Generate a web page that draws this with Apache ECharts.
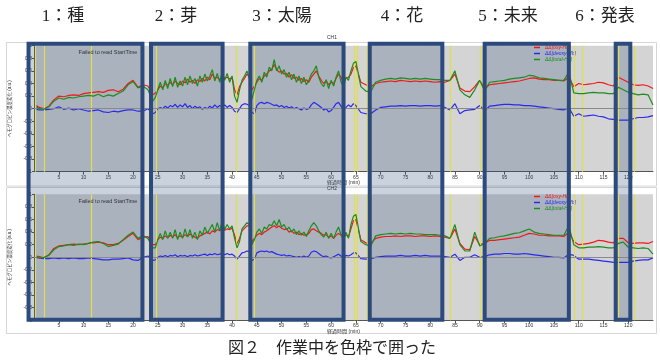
<!DOCTYPE html>
<html><head><meta charset="utf-8">
<script src="https://cdn.jsdelivr.net/npm/echarts@6.0.0/dist/echarts.min.js"></script>
<style>html,body{margin:0;padding:0;background:#fff}#c{width:660px;height:361px}</style>
</head><body><div id="c"></div><script>
// time grid (min)
const times = [0.5,1,2,3,4,5,6,7,8,9,10,11,12,13,14,15,16,17,18,19,20,21,22,23,24,
24.5,25,25.5,26,26.5,27,27.5,28,28.5,29,29.5,30,30.5,31,31.5,32,32.5,33,33.5,34,34.5,35,35.5,36,36.5,37,37.5,38,38.5,39,39.5,40,40.5,41,41.5,42,42.5,43,43.5,44,44.5,45,45.5,46,46.5,47,47.5,48,48.5,49,49.5,50,50.5,51,51.5,52,52.5,53,53.5,54,54.5,55,55.5,56,56.5,57,57.5,58,58.5,59,59.5,60,60.5,61,61.5,62,62.5,63,63.5,64,64.5,
65,66,67,68,69,70,71,72,73,74,75,76,77,78,79,80,81,82,83,84,85,86,87,88,89,90,91,92,93,94,95,96,97,98,99,100,101,102,103,104,105,106,107,108,109,110,111,112,113,114,115,116,117,118,119,120,121,122,123,124,125];

// CH1
const oxy1 = [0.05,0.02,0.00,0.04,0.14,0.20,0.19,0.21,0.22,0.21,0.24,0.25,0.26,0.27,0.26,0.29,0.30,0.27,0.31,0.40,0.45,0.34,0.38,0.36,0.22,
0.25,0.30,0.36,0.33,0.40,0.37,0.42,0.38,0.44,0.40,
0.38,0.44,0.41,0.47,0.42,0.45,0.40,0.46,0.43,0.48,
0.44,0.50,0.46,0.55,0.48,0.50,0.46,0.52,0.48,0.50,
0.47,0.50,0.30,0.22,0.35,0.42,0.48,0.55,0.50,0.30,
0.36,0.42,0.48,0.45,0.52,0.55,0.60,0.62,0.70,0.62,
0.58,0.60,0.55,0.56,0.50,0.54,0.48,0.50,0.45,0.48,
0.43,0.46,0.42,0.50,0.55,0.60,0.52,0.45,0.40,0.44,
0.38,0.42,0.40,0.48,0.55,0.50,0.42,0.48,0.50,0.55,
0.65,
0.68,0.42,0.38,0.35,0.40,0.42,0.43,0.44,0.43,0.45,
0.44,0.43,0.44,0.43,0.44,0.43,0.42,0.43,0.42,0.45,
0.55,0.33,0.28,0.27,0.35,0.45,0.32,0.38,0.39,0.40,
0.41,0.42,0.43,0.44,0.46,0.48,0.49,0.47,0.46,0.46,
0.45,0.45,0.44,0.50,0.35,0.40,0.38,0.39,0.40,0.42,
0.41,0.38,0.36,0.50,0.46,0.42,0.38,0.37,0.38,0.36,
0.32];
const deoxy1 = [-0.01,-0.02,-0.02,-0.01,0.00,0.03,-0.01,0.01,-0.02,0.00,-0.02,-0.04,-0.03,-0.02,-0.05,-0.06,-0.04,-0.05,-0.03,-0.02,-0.02,-0.04,-0.04,0.00,-0.08,
-0.06,0.00,0.02,0.00,0.04,0.01,0.05,0.03,0.07,0.02,
0.06,0.03,0.08,0.02,0.05,0.00,0.04,0.01,0.03,-0.01,
0.02,0.00,0.04,0.01,0.06,0.02,0.05,0.03,0.06,0.02,
0.05,0.02,-0.04,-0.06,0.00,0.06,0.08,0.07,0.05,-0.06,
-0.08,0.05,0.09,0.10,0.08,0.10,0.09,0.07,0.05,0.06,
0.03,0.05,0.02,0.04,0.01,0.03,0.00,0.02,0.00,-0.02,
0.01,-0.01,0.00,0.06,0.10,0.08,0.05,0.02,-0.02,0.00,
-0.05,-0.03,0.02,0.08,0.10,0.04,-0.03,0.02,0.06,0.03,
0.08,
0.05,-0.06,-0.08,-0.08,-0.02,0.02,0.03,0.04,0.04,0.05,
0.04,0.05,0.05,0.04,0.05,0.05,0.04,0.05,0.02,-0.02,
0.08,-0.08,-0.03,-0.02,-0.01,0.05,-0.03,0.04,0.05,0.06,
0.07,0.07,0.06,0.06,0.05,0.05,0.04,0.03,0.02,0.01,
0.00,-0.01,-0.02,0.02,-0.12,-0.08,-0.12,-0.11,-0.10,-0.12,
-0.13,-0.16,-0.17,-0.18,-0.18,-0.18,-0.16,-0.14,-0.14,-0.13,
-0.11];
const total1 = [0.03,0.00,-0.01,0.03,0.12,0.17,0.15,0.18,0.17,0.19,0.20,0.21,0.20,0.23,0.19,0.22,0.20,0.24,0.28,0.38,0.43,0.33,0.36,0.30,0.12,
0.18,0.30,0.42,0.30,0.45,0.32,0.48,0.35,0.50,0.34,
0.44,0.36,0.50,0.38,0.52,0.40,0.48,0.36,0.52,0.42,
0.55,0.44,0.52,0.62,0.44,0.56,0.42,0.58,0.45,0.56,
0.42,0.52,0.20,0.10,0.30,0.45,0.52,0.60,0.48,0.15,
0.30,0.45,0.52,0.42,0.58,0.50,0.66,0.60,0.78,0.60,
0.68,0.55,0.62,0.50,0.58,0.46,0.55,0.42,0.52,0.40,
0.50,0.38,0.45,0.55,0.60,0.68,0.50,0.40,0.35,0.46,
0.32,0.45,0.36,0.50,0.60,0.42,0.35,0.50,0.45,0.60,
0.72,
0.75,0.35,0.28,0.27,0.42,0.45,0.47,0.48,0.47,0.49,
0.48,0.47,0.48,0.47,0.48,0.47,0.46,0.46,0.45,0.45,
0.60,0.30,0.22,0.18,0.30,0.45,0.28,0.42,0.43,0.44,
0.45,0.47,0.48,0.49,0.50,0.53,0.52,0.49,0.48,0.47,
0.46,0.45,0.45,0.58,0.25,0.24,0.24,0.25,0.26,0.25,
0.25,0.24,0.24,0.34,0.30,0.26,0.24,0.22,0.23,0.22,
0.06];

// CH2
const oxy2 = [0.02,0.01,-0.01,0.04,0.14,0.18,0.19,0.20,0.21,0.20,0.21,0.22,0.23,0.24,0.23,0.20,0.20,0.22,0.27,0.33,0.38,0.28,0.32,0.33,0.20,
0.20,0.28,0.32,0.30,0.34,0.31,0.35,0.32,0.36,0.31,
0.34,0.32,0.36,0.33,0.37,0.34,0.32,0.30,0.34,0.36,
0.38,0.40,0.37,0.42,0.40,0.44,0.42,0.46,0.43,0.45,
0.44,0.46,0.35,0.22,0.30,0.42,0.46,0.50,0.50,0.25,
0.30,0.35,0.38,0.36,0.40,0.42,0.45,0.48,0.50,0.47,
0.50,0.46,0.44,0.45,0.40,0.42,0.38,0.40,0.36,0.38,
0.35,0.36,0.38,0.44,0.45,0.42,0.40,0.38,0.35,0.36,
0.32,0.34,0.30,0.35,0.38,0.35,0.30,0.36,0.32,0.45,
0.58,
0.60,0.28,0.23,0.22,0.30,0.32,0.33,0.33,0.34,0.33,
0.34,0.34,0.33,0.34,0.34,0.33,0.34,0.33,0.32,0.30,
0.45,0.22,0.13,0.12,0.33,0.20,0.22,0.27,0.27,0.28,
0.29,0.30,0.31,0.32,0.35,0.38,0.37,0.35,0.35,0.34,
0.34,0.34,0.33,0.40,0.25,0.20,0.21,0.22,0.24,0.27,
0.26,0.24,0.23,0.30,0.30,0.23,0.22,0.23,0.23,0.22,
0.25];
const deoxy2 = [0.00,-0.01,-0.02,-0.02,-0.01,-0.02,-0.01,-0.02,-0.01,-0.02,-0.02,-0.01,-0.02,-0.03,-0.04,-0.04,-0.03,-0.03,-0.02,-0.01,-0.04,-0.05,0.00,0.02,-0.05,
-0.04,0.00,0.02,0.01,0.03,0.01,0.03,0.02,0.04,0.01,
0.03,0.02,0.03,0.01,0.03,0.02,0.04,0.02,0.03,0.04,
0.05,0.03,0.05,0.04,0.06,0.04,0.05,0.06,0.04,0.06,
0.04,0.05,0.02,-0.03,0.02,0.07,0.08,0.10,0.09,-0.05,
-0.03,0.07,0.09,0.10,0.09,0.10,0.08,0.09,0.07,0.05,
0.04,0.03,0.04,0.02,0.03,0.02,0.01,0.00,0.01,0.00,
0.02,0.00,0.02,0.08,0.10,0.09,0.06,0.03,0.01,0.02,
0.00,-0.01,0.01,0.03,0.05,0.02,0.00,0.03,0.02,0.04,
0.07,
0.07,-0.02,-0.03,-0.02,0.00,0.01,0.02,0.02,0.02,0.03,
0.02,0.02,0.03,0.02,0.03,0.02,0.02,0.02,0.01,0.00,
0.05,-0.05,0.00,0.00,0.04,0.00,0.01,0.04,0.05,0.05,
0.06,0.06,0.05,0.05,0.06,0.05,0.04,0.03,0.02,0.01,
0.00,0.00,-0.01,0.05,0.03,-0.03,-0.03,-0.03,-0.04,-0.05,
-0.06,-0.07,-0.08,-0.08,-0.08,-0.08,-0.06,-0.05,-0.04,-0.04,
-0.01];
const total2 = [0.00,-0.01,0.00,0.03,0.12,0.17,0.18,0.20,0.19,0.21,0.20,0.22,0.24,0.25,0.22,0.17,0.19,0.21,0.28,0.35,0.40,0.30,0.34,0.30,0.15,
0.15,0.28,0.38,0.28,0.42,0.30,0.40,0.30,0.44,0.28,
0.40,0.30,0.45,0.32,0.44,0.30,0.40,0.28,0.42,0.35,
0.48,0.38,0.45,0.52,0.40,0.55,0.42,0.58,0.44,0.52,
0.45,0.50,0.30,0.15,0.25,0.45,0.50,0.55,0.52,0.20,
0.28,0.40,0.45,0.38,0.48,0.45,0.52,0.50,0.58,0.50,
0.60,0.48,0.52,0.44,0.48,0.40,0.45,0.36,0.42,0.35,
0.40,0.33,0.42,0.50,0.55,0.50,0.42,0.36,0.32,0.40,
0.30,0.38,0.30,0.40,0.48,0.36,0.28,0.40,0.30,0.52,
0.65,
0.68,0.25,0.20,0.18,0.34,0.36,0.37,0.38,0.37,0.38,
0.37,0.38,0.37,0.37,0.36,0.36,0.36,0.35,0.34,0.30,
0.52,0.20,0.10,0.10,0.40,0.18,0.22,0.30,0.31,0.33,
0.34,0.36,0.38,0.39,0.42,0.45,0.40,0.38,0.37,0.36,
0.35,0.35,0.35,0.50,0.20,0.15,0.15,0.16,0.16,0.17,
0.16,0.15,0.15,0.22,0.24,0.16,0.15,0.14,0.15,0.14,
0.05];

// task windows (min) and event markers (min)
const boxes = [[1.1,23.7],[25.4,39.6],[45.1,63.6],[68.8,83.2],[91.6,108.3],[117.6,120.5]];
const boxLabels = ['1：種','2：芽','3：太陽','4：花','5：未来','6：発表'];
const markers = [0.3,2.1,11.6,24.6,40.8,44.5,64.7,65.3,67.3,84.1,90.1,109.1,110.7,117.9,121.3];
const seriesNames = ['ΔΔ[oxy-Hb]','ΔΔ[deoxy-Hb]','ΔΔ[total-Hb]'];
const seriesColors = ['#f21818','#2a2aee','#1e8c1e'];

const chart = echarts.init(document.getElementById('c'));
const pair = a => times.map((t,i)=>[t,a[i]]);
const SANS = '"Liberation Sans","Noto Sans CJK JP",sans-serif';
const CJK = '"Liberation Serif","Noto Sans CJK JP",serif';

function xAx(i){
  return {gridIndex:i,type:'value',min:0,max:125,interval:5,
    axisLine:{show:true,onZero:false,lineStyle:{color:'#555',width:1}},
    axisTick:{show:true,length:3,lineStyle:{color:'#555'}},
    axisLabel:{fontSize:5,color:'#333',margin:3,showMinLabel:false,showMaxLabel:false},
    splitLine:{show:false},
    name:'経過時間 (min)',nameLocation:'middle',nameGap:7,
    nameTextStyle:{fontSize:5,color:'#333'}};
}
function yAx(i){
  return {gridIndex:i,type:'value',min:-1,max:1,interval:0.2,
    axisLine:{show:true,lineStyle:{color:'#555',width:1}},
    axisTick:{show:true,length:2,lineStyle:{color:'#555'}},
    axisLabel:{fontSize:5,color:'#333',margin:2},
    splitLine:{show:false},
    name:'ヘモグロビン濃度変化 (a.u.)',nameLocation:'middle',nameGap:11,
    nameTextStyle:{fontSize:4.5,color:'#333'}};
}
function panelSeries(i, oxy, deoxy, total){
  const arr = [oxy, deoxy, total];
  return arr.map((a,k)=>{
    const s = {type:'line',name:seriesNames[k],xAxisIndex:i,yAxisIndex:i,
      data:pair(a),showSymbol:false,symbol:'none',animation:false,
      lineStyle:{color:seriesColors[k],width:1.2},itemStyle:{color:seriesColors[k]},z:3+k};
    if(k===0){
      s.markLine={silent:true,symbol:['none','none'],label:{show:false},animation:false,
        lineStyle:{color:'#e0e04a',width:1.2,type:'solid'},
        data:markers.map(v=>({xAxis:v}))};
    }
    if(k===1){
      s.markLine={silent:true,symbol:['none','none'],label:{show:false},animation:false,
        lineStyle:{color:'#8a8a8a',width:1,type:'solid'},data:[{yAxis:0}]};
    }
    return s;
  });
}
function boxRect(params, api){
  const p0 = api.coord([api.value(0),1]);
  const p1 = api.coord([api.value(1),0]);
  return {x:p0[0],y:p0[1],width:p1[0]-p0[0],height:p1[1]-p0[1]};
}
function legendOf(top){
  return {orient:'vertical',left:534,top:top,itemGap:1,itemWidth:6,itemHeight:1.5,icon:'rect',padding:0,
    textStyle:{fontSize:5,fontStyle:'italic',fontFamily:SANS},
    data:seriesNames.map((n,k)=>({name:n,textStyle:{color:seriesColors[k]}}))};
}
const headX = [63,176,282,402,508,605];

const option = {
  animation:false,
  textStyle:{fontFamily:SANS},
  grid:[
    {left:23,width:630,top:45.7,height:126,show:true,backgroundColor:'#d4d4d4',borderWidth:0},
    {left:23,width:630,top:194.3,height:126,show:true,backgroundColor:'#d4d4d4',borderWidth:0},
    {left:23,width:630,top:43.7,height:276,show:false}
  ],
  xAxis:[xAx(0),xAx(1),{gridIndex:2,type:'value',min:0,max:125,show:false}],
  yAxis:[yAx(0),yAx(1),{gridIndex:2,type:'value',min:0,max:1,show:false}],
  legend:[legendOf(45),legendOf(194)],
  series:[
    {type:'custom',xAxisIndex:2,yAxisIndex:2,z:1,silent:true,data:boxes,encode:{x:[0,1]},
      renderItem:(p,api)=>({type:'rect',shape:boxRect(p,api),style:{fill:'rgba(45,74,123,0.25)'}})},
    ...panelSeries(0,oxy1,deoxy1,total1),
    ...panelSeries(1,oxy2,deoxy2,total2),
    {type:'custom',xAxisIndex:2,yAxisIndex:2,z:10,silent:true,data:boxes,encode:{x:[0,1]},
      renderItem:(p,api)=>({type:'rect',shape:boxRect(p,api),style:{fill:'none',stroke:'#2c4a7b',lineWidth:4}})}
  ],
  graphic:[
    {type:'rect',z:-1,shape:{x:6.5,y:42.5,width:650,height:143.5},style:{fill:'none',stroke:'#d6d6d6',lineWidth:1}},
    {type:'rect',z:-1,shape:{x:6.5,y:187.5,width:650,height:146},style:{fill:'none',stroke:'#d6d6d6',lineWidth:1}},
    ...boxLabels.map((t,i)=>({type:'text',x:headX[i],y:17,style:{text:t,fontSize:17,fontFamily:CJK,fill:'#222',align:'center',verticalAlign:'middle'}})),
    {type:'text',x:332,y:349,style:{text:'図２　作業中を色枠で囲った',fontSize:16,fontFamily:CJK,fill:'#222',align:'center',verticalAlign:'middle'}},
    {type:'text',x:108,y:52.7,z:20,style:{text:'Failed to read StartTime',fontSize:5.5,fontFamily:SANS,fill:'#333',align:'center',verticalAlign:'middle'}},
    {type:'text',x:108,y:201.7,z:20,style:{text:'Failed to read StartTime',fontSize:5.5,fontFamily:SANS,fill:'#333',align:'center',verticalAlign:'middle'}},
    {type:'text',x:332,y:38,style:{text:'CH1',fontSize:5,fontFamily:SANS,fill:'#333',align:'center',verticalAlign:'middle'}},
    {type:'text',x:332,y:189,style:{text:'CH2',fontSize:5,fontFamily:SANS,fill:'#333',align:'center',verticalAlign:'middle'}}
  ]
};
chart.setOption(option);
</script></body></html>
